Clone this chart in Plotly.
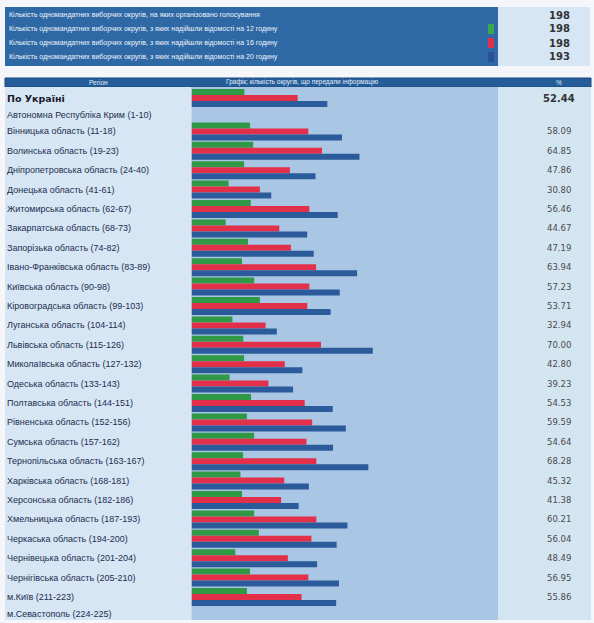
import plotly.graph_objects as go

# ---------------- data ----------------
regions = [
    "По Україні",
    "Автономна Республіка Крим (1-10)",
    "Вінницька область (11-18)",
    "Волинська область (19-23)",
    "Дніпропетровська область (24-40)",
    "Донецька область (41-61)",
    "Житомирська область (62-67)",
    "Закарпатська область (68-73)",
    "Запорізька область (74-82)",
    "Івано-Франківська область (83-89)",
    "Київська область (90-98)",
    "Кіровоградська область (99-103)",
    "Луганська область (104-114)",
    "Львівська область (115-126)",
    "Миколаївська область (127-132)",
    "Одеська область (133-143)",
    "Полтавська область (144-151)",
    "Рівненська область (152-156)",
    "Сумська область (157-162)",
    "Тернопільська область (163-167)",
    "Харківська область (168-181)",
    "Херсонська область (182-186)",
    "Хмельницька область (187-193)",
    "Черкаська область (194-200)",
    "Чернівецька область (201-204)",
    "Чернігівська область (205-210)",
    "м.Київ (211-223)",
    "м.Севастополь (224-225)",
]

turnout_12h = [20.4, None, 22.6, 23.8, 20.3, 14.3, 22.9, 13.2, 21.8, 19.5,
               24.2, 26.4, 15.8, 20.0, 20.3, 14.7, 23.0, 21.4, 24.2, 19.9,
               18.9, 19.5, 24.2, 26.0, 16.9, 22.6, 21.4, None]
turnout_16h = [41.0, None, 45.1, 50.4, 38.0, 26.4, 45.5, 33.9, 38.4, 48.1,
               45.5, 44.7, 28.6, 50.0, 36.0, 29.7, 43.7, 46.6, 44.4, 48.2,
               35.8, 34.6, 48.2, 46.3, 37.2, 45.1, 42.5, None]
turnout_20h = [52.44, None, 58.09, 64.85, 47.86, 30.80, 56.46, 44.67, 47.19, 63.94,
               57.23, 53.71, 32.94, 70.00, 42.80, 39.23, 54.53, 59.59, 54.64, 68.28,
               45.32, 41.38, 60.21, 56.04, 48.49, 56.95, 55.86, None]

header_lines = [
    "Кількість одномандатних виборчих округів, на яких організовано голосування",
    "Кількість одномандатних виборчих округів, з яких надійшли відомості на 12 годину",
    "Кількість одномандатних виборчих округів, з яких надійшли відомості на 16 годину",
    "Кількість одномандатних виборчих округів, з яких надійшли відомості на 20 годину",
]
header_counts = [198, 198, 198, 193]
column_titles = ["Регіон", "Графік; кількість округів, що передали інформацію", "%"]

# ---------------- styling / layout ----------------
W, H = 594, 623
GREEN, RED, BLUE = "#2f9946", "#e2304a", "#2c5b9b"
LEGEND_COLORS = [None, "#3aa84c", "#e3314b", "#2a4f96"]
DARK = "#2e69a5"
HEAD = "#245d98"
LIGHT = "#d6e6f4"
PANEL = "#a9c6e4"
TXT = "#1d2d4f"

ROW_DATA, ROW_EMPTY = 19.4, 14.0
FIRST_ROW = 98.0

# row centres from row heights (rows without data are shorter)
heights = [ROW_DATA if v is not None else ROW_EMPTY for v in turnout_20h]
centres = []
pos = FIRST_ROW
for i, h in enumerate(heights):
    if i > 0:
        pos += (heights[i - 1] + h) / 2
    centres.append(pos)

X0, X1 = 191.5, 498.0
PX_PER_PCT = 2.59
x_max = (X1 - X0) / PX_PER_PCT

fig = go.Figure()
for vals, col, off in [(turnout_12h, GREEN, -9), (turnout_16h, RED, -3), (turnout_20h, BLUE, 3)]:
    fig.add_trace(go.Bar(
        x=vals, y=centres, orientation="h",
        width=6, offset=off,
        marker=dict(color=col, line=dict(width=0)),
        showlegend=False, hoverinfo="skip",
    ))

def px(x):
    return x / W

def py(y):
    return 1 - y / H

shapes = []
def rect(x0, y0, x1, y1, color, line=None):
    shapes.append(dict(type="rect", xref="paper", yref="paper",
                       x0=px(x0), x1=px(x1), y0=py(y1), y1=py(y0),
                       fillcolor=color, line=dict(width=0) if line is None else line,
                       layer="below"))

# top info block
rect(5, 7, 498, 66, DARK)
rect(498, 7, 590, 66, LIGHT)
# column header row
rect(5, 78, 591, 87, HEAD, dict(width=1, color="#1a4a80"))
# columns
rect(5, 87, 191.5, 620, LIGHT)
rect(191.5, 87, 498, 620, PANEL)
rect(498, 87, 591, 620, "#d4e5f2")

# legend markers in the info block
line_y = [15, 29, 43, 57]
for i, c in enumerate(LEGEND_COLORS):
    if c:
        shapes.append(dict(type="rect", xref="paper", yref="paper",
                           x0=px(488), x1=px(494), y0=py(line_y[i] + 5), y1=py(line_y[i] - 5),
                           fillcolor=c, line=dict(width=0), layer="above"))

annotations = []
FONT = "Liberation Sans"
for i, (t, n) in enumerate(zip(header_lines, header_counts)):
    annotations.append(dict(text=t, xref="paper", yref="paper", x=px(7), y=py(line_y[i]),
                            xanchor="left", yanchor="middle", showarrow=False,
                            font=dict(family=FONT, size=7, color="#eef4fb")))
    annotations.append(dict(text="<b>%d</b>" % n, xref="paper", yref="paper", x=px(559), y=py(line_y[i]),
                            xanchor="center", yanchor="middle", showarrow=False,
                            font=dict(family="DejaVu Sans", size=10, color="#333333")))

for t, xc in zip(column_titles, [98, 302, 559]):
    annotations.append(dict(text=t, xref="paper", yref="paper", x=px(xc), y=py(82.5),
                            xanchor="center", yanchor="middle", showarrow=False,
                            font=dict(family=FONT, size=6.5, color="#e6eef8")))

for i, (name, yc, v) in enumerate(zip(regions, centres, turnout_20h)):
    if i == 0:
        annotations.append(dict(text="<b>%s</b>" % name, xref="paper", yref="y", x=px(5), y=yc,
                                xanchor="left", yanchor="middle", showarrow=False,
                                font=dict(family="DejaVu Sans", size=9.5, color="#1a1a2a")))
    else:
        annotations.append(dict(text=name, xref="paper", yref="y", x=px(5), y=yc,
                                xanchor="left", yanchor="middle", showarrow=False,
                                font=dict(family=FONT, size=9, color=TXT)))
    if v is not None:
        if i == 0:
            annotations.append(dict(text="<b>%.2f</b>" % v, xref="paper", yref="y", x=px(559), y=yc,
                                    xanchor="center", yanchor="middle", showarrow=False,
                                    font=dict(family="DejaVu Sans", size=10, color="#333333")))
        else:
            annotations.append(dict(text="%.2f" % v, xref="paper", yref="y", x=px(559), y=yc,
                                    xanchor="center", yanchor="middle", showarrow=False,
                                    font=dict(family="DejaVu Sans", size=8.5, color="#4a4a4a")))

fig.update_layout(
    width=W, height=H,
    margin=dict(l=0, r=0, t=0, b=0),
    paper_bgcolor="#f4f6f9",
    plot_bgcolor="rgba(0,0,0,0)",
    barmode="overlay",
    xaxis=dict(domain=[px(X0), px(X1)], range=[0, x_max], visible=False, fixedrange=True),
    yaxis=dict(domain=[0, 1], range=[H, 0], visible=False, fixedrange=True),
    shapes=shapes,
    annotations=annotations,
)

fig.write_html("out.html")
